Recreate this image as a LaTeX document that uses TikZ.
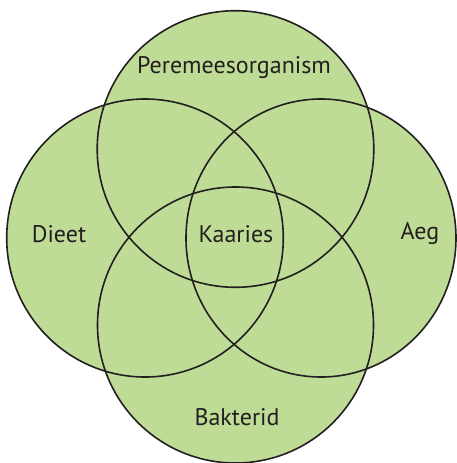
\documentclass[tikz,border=0pt]{standalone}
\usepackage{fontspec}
\setmainfont{PT Sans}
\usetikzlibrary{positioning}
\definecolor{vennfill}{RGB}{191,220,150}
\definecolor{vennline}{RGB}{35,31,32}
\tikzset{setlabel/.style={font=\fontsize{24}{27}\selectfont,text=vennline,inner sep=0pt}}

\begin{document}
\begin{tikzpicture}[x=1pt,y=-1pt]
  \useasboundingbox (0,0) rectangle (456,463);
  \fill[vennfill] (235.5,149) circle (138.3);                          % top
  \fill[vennfill] (145,238) ellipse [x radius=138.3,y radius=139];     % left
  \fill[vennfill] (321,238) ellipse [x radius=135,y radius=139];       % right
  \fill[vennfill] (235.5,325) circle (138);                            % bottom
  \begin{scope}[draw=vennline,line width=1.6pt]
    \draw (235.5,149) circle (138.3);
    \draw (145,238) ellipse [x radius=138.3,y radius=139];
    \draw (321,238) ellipse [x radius=135,y radius=139];
    \draw (235.5,325) circle (138);
  \end{scope}
  \node[setlabel] (host) at (234,68) {Peremeesorganism};
  \node[setlabel] (diet) at (59,234) {Dieet};
  \node[setlabel] (caries) at (236,234) {Kaaries};
  \node[setlabel] (time) at (420,234) {Aeg};
  \node[setlabel] (bact) at (237,417) {Bakterid};
\end{tikzpicture}
\end{document}
